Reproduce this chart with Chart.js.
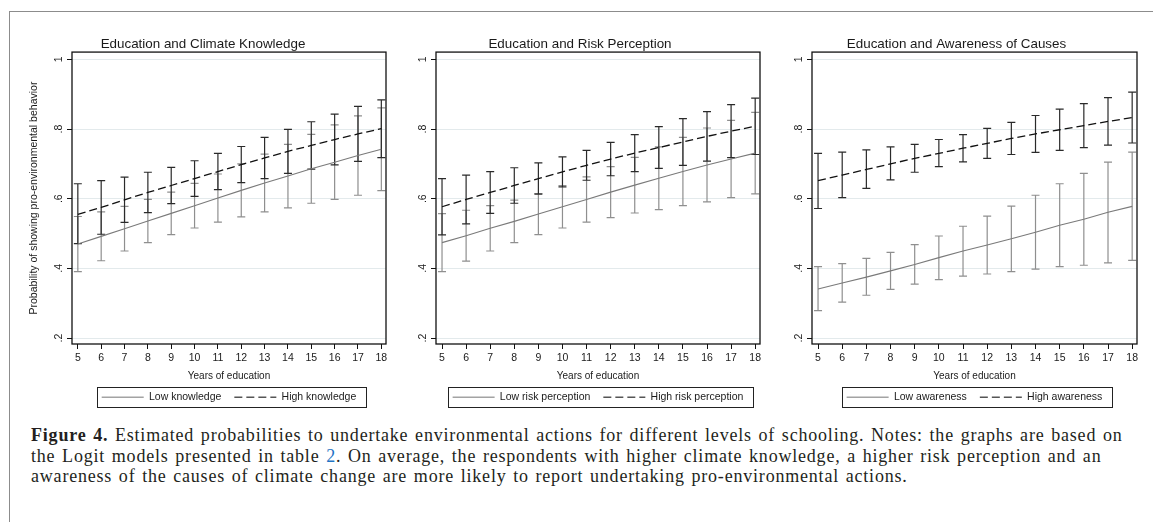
<!DOCTYPE html>
<html>
<head>
<meta charset="utf-8">
<script src="https://cdn.jsdelivr.net/npm/chart.js@4.4.1/dist/chart.umd.min.js"></script>
<style>
    body { margin: 0; background: #fff; width: 1153px; height: 522px; overflow: hidden; position: relative; font-family: "Liberation Sans", Arial, sans-serif; }
    #frame { position: absolute; left: 9px; top: 11px; right: -10px; bottom: -10px; border-top: 1.5px solid #8c8c8c; border-left: 1.5px solid #8c8c8c; }
    .panel { position: absolute; top: 0; height: 420px; }
    #caption { position: absolute; left: 31px; top: 425px; width: 1115px; font-family: "Liberation Serif", serif; font-size: 18px; line-height: 20.5px; letter-spacing: 0.8px; word-spacing: 1.4px; color: #231f20; white-space: nowrap; }
    #caption a { color: #1f74c4; text-decoration: none; }
</style>
</head>
<body>
<div id="frame"></div>
<div class="panel" style="left:20px;width:376px"><canvas id="grafikKnowledge"></canvas></div>
<div class="panel" style="left:400px;width:372px"><canvas id="grafikRisk"></canvas></div>
<div class="panel" style="left:776px;width:369px"><canvas id="grafikCauses"></canvas></div>
<div id="caption"><b>Figure 4.</b> Estimated probabilities to undertake environmental actions for different levels of schooling. Notes: the graphs are based on<br>the Logit models presented in table <a>2</a>. On average, the respondents with higher climate knowledge, a higher risk perception and an<br>awareness of the causes of climate change are more likely to report undertaking pro-environmental actions.</div>

<script>
// data
const years = [5, 6, 7, 8, 9, 10, 11, 12, 13, 14, 15, 16, 17, 18];
const yTicks = [0.2, 0.4, 0.6, 0.8, 1];
const panelTitles = ["Education and Climate Knowledge", "Education and Risk Perception", "Education and Awareness of Causes"];
const lowLabels = ["Low knowledge", "Low risk perception", "Low awareness"];
const highLabels = ["High knowledge", "High risk perception", "High awareness"];

// panel 1: climate knowledge
const knowLow = [0.470, 0.492, 0.514, 0.536, 0.558, 0.580, 0.602, 0.624, 0.645, 0.665, 0.686, 0.705, 0.724, 0.742];
const knowLowLower = [0.391, 0.422, 0.450, 0.474, 0.497, 0.516, 0.533, 0.548, 0.562, 0.574, 0.587, 0.598, 0.610, 0.623];
const knowLowUpper = [0.549, 0.562, 0.578, 0.598, 0.619, 0.644, 0.671, 0.700, 0.728, 0.756, 0.785, 0.812, 0.838, 0.861];
const knowHigh = [0.555, 0.575, 0.597, 0.618, 0.638, 0.658, 0.678, 0.698, 0.717, 0.736, 0.753, 0.770, 0.786, 0.801];
const knowHighLower = [0.471, 0.498, 0.532, 0.560, 0.586, 0.607, 0.626, 0.646, 0.658, 0.673, 0.685, 0.697, 0.707, 0.718];
const knowHighUpper = [0.643, 0.652, 0.662, 0.676, 0.690, 0.709, 0.730, 0.750, 0.776, 0.799, 0.821, 0.843, 0.865, 0.884];

// panel 2: risk perception
const riskLow = [0.474, 0.494, 0.515, 0.535, 0.556, 0.577, 0.598, 0.619, 0.639, 0.659, 0.678, 0.697, 0.714, 0.731];
const riskLowLower = [0.391, 0.421, 0.450, 0.474, 0.497, 0.516, 0.533, 0.546, 0.559, 0.569, 0.580, 0.591, 0.603, 0.614];
const riskLowUpper = [0.557, 0.567, 0.580, 0.596, 0.615, 0.638, 0.663, 0.692, 0.719, 0.749, 0.776, 0.803, 0.825, 0.848];
const riskHigh = [0.577, 0.598, 0.618, 0.638, 0.658, 0.677, 0.696, 0.714, 0.731, 0.747, 0.763, 0.779, 0.794, 0.808];
const riskHighLower = [0.496, 0.528, 0.558, 0.587, 0.613, 0.634, 0.653, 0.666, 0.678, 0.687, 0.696, 0.708, 0.718, 0.727];
const riskHighUpper = [0.658, 0.668, 0.678, 0.689, 0.703, 0.720, 0.739, 0.762, 0.784, 0.807, 0.830, 0.850, 0.870, 0.889];

// panel 3: awareness of causes
const causeLow = [0.341, 0.358, 0.375, 0.393, 0.411, 0.431, 0.450, 0.467, 0.485, 0.504, 0.524, 0.541, 0.561, 0.578];
const causeLowLower = [0.279, 0.303, 0.323, 0.340, 0.355, 0.368, 0.378, 0.384, 0.391, 0.398, 0.405, 0.409, 0.416, 0.423];
const causeLowUpper = [0.405, 0.414, 0.429, 0.446, 0.468, 0.493, 0.521, 0.550, 0.579, 0.610, 0.643, 0.673, 0.705, 0.734];
const causeHigh = [0.652, 0.668, 0.684, 0.700, 0.716, 0.730, 0.745, 0.759, 0.773, 0.786, 0.798, 0.810, 0.822, 0.833];
const causeHighLower = [0.572, 0.603, 0.630, 0.654, 0.676, 0.692, 0.706, 0.716, 0.727, 0.733, 0.739, 0.747, 0.754, 0.760];
const causeHighUpper = [0.730, 0.734, 0.740, 0.749, 0.756, 0.770, 0.784, 0.802, 0.819, 0.839, 0.857, 0.873, 0.890, 0.906];

const fontSans = "'Liberation Sans', Arial, sans-serif";
const textColor = "#1a1a1a";

function fmtProb(v) {
    // stata style: .2 .4 ... 1
    return v >= 1 ? "1" : String(Math.round(v * 10) / 10).replace(/^0/, "");
}

// error bars, plot frame, rotated y labels, legend box
const stataPlugin = {
    id: "stataLook",
    beforeDatasetsDraw(chart) {
        const { ctx, chartArea, scales } = chart;
        ctx.save();
        ctx.beginPath();
        ctx.rect(chartArea.left, chartArea.top, chartArea.right - chartArea.left, chartArea.bottom - chartArea.top);
        ctx.clip();
        chart.data.datasets.forEach(ds => {
            ctx.strokeStyle = ds.barColor;
            ctx.lineWidth = 1.2;
            ds.data.forEach((p, i) => {
                const px = scales.x.getPixelForValue(p.x);
                const yLo = scales.y.getPixelForValue(ds.lower[i]);
                const yHi = scales.y.getPixelForValue(ds.upper[i]);
                ctx.beginPath();
                ctx.moveTo(px, yLo); ctx.lineTo(px, yHi);
                ctx.moveTo(px - 4, yLo); ctx.lineTo(px + 4, yLo);
                ctx.moveTo(px - 4, yHi); ctx.lineTo(px + 4, yHi);
                ctx.stroke();
            });
        });
        ctx.restore();
    },
    afterDraw(chart) {
        const { ctx, chartArea, scales } = chart;
        ctx.save();
        ctx.strokeStyle = "#111";
        ctx.lineWidth = 1.3;
        ctx.strokeRect(chartArea.left, chartArea.top, chartArea.right - chartArea.left, chartArea.bottom - chartArea.top);

        // y tick labels, rotated like stata
        ctx.fillStyle = textColor;
        ctx.font = "10.5px " + fontSans;
        ctx.textAlign = "center";
        ctx.textBaseline = "middle";
        scales.y.ticks.forEach(t => {
            const py = scales.y.getPixelForValue(t.value);
            ctx.save();
            ctx.translate(chartArea.left - 13, py);
            ctx.rotate(-Math.PI / 2);
            ctx.fillText(fmtProb(t.value), 0, 0);
            ctx.restore();
        });

        // box round the legend
        const boxes = chart.legend.legendHitBoxes;
        if (boxes && boxes.length) {
            const left = Math.min(...boxes.map(b => b.left)) - 5;
            const right = Math.max(...boxes.map(b => b.left + b.width)) + 9;
            const mid = boxes[0].top + boxes[0].height / 2;
            ctx.strokeStyle = "#222";
            ctx.lineWidth = 1;
            ctx.strokeRect(Math.round(left) + 0.5, Math.round(mid - 10) + 0.5, Math.round(right - left), 20);
        }
        ctx.restore();
    }
};

function legendLabels(chart) {
    return Chart.defaults.plugins.legend.labels.generateLabels(chart).map(item => {
        const ds = chart.data.datasets[item.datasetIndex];
        item.lineDash = ds.borderDash || [];
        item.strokeStyle = ds.legendColor;
        item.lineWidth = 1.3;
        return item;
    });
}

function renderPanel(canvasId, idx, low, lowLower, lowUpper, high, highLower, highUpper, yAxisWidth, padRight, showYTitle) {
    const ctx = document.getElementById(canvasId).getContext("2d");
    new Chart(ctx, {
        type: "line",
        data: {
            datasets: [
                {
                    label: lowLabels[idx],
                    data: years.map((x, i) => ({ x, y: low[i] })),
                    lower: lowLower, upper: lowUpper, barColor: "#8f8f8f", legendColor: "#a3a3a3",
                    borderColor: "#7a7a7a", borderWidth: 1.1, pointRadius: 0, tension: 0
                },
                {
                    label: highLabels[idx],
                    data: years.map((x, i) => ({ x, y: high[i] })),
                    lower: highLower, upper: highUpper, barColor: "#2a2a2a", legendColor: "#555",
                    borderColor: "#111", borderWidth: 1.3, borderDash: [8, 4], pointRadius: 0, tension: 0
                }
            ]
        },
        options: {
            responsive: true,
            maintainAspectRatio: false,
            animation: false,
            layout: { padding: { left: 0, right: padRight, top: 0, bottom: 7.5 } },
            plugins: {
                tooltip: { enabled: false },
                title: {
                    display: true, text: panelTitles[idx], color: textColor,
                    font: { family: fontSans, size: 13.4, weight: "normal" },
                    padding: { top: 36, bottom: 0 }
                },
                legend: {
                    position: "bottom", fullSize: false,
                    labels: {
                        usePointStyle: true, pointStyle: "line", pointStyleWidth: 42,
                        color: textColor, padding: 13,
                        font: { family: fontSans, size: 10.5 },
                        generateLabels: legendLabels
                    }
                }
            },
            scales: {
                x: {
                    type: "linear", min: 4.75, max: 18.2,
                    afterBuildTicks: s => { s.ticks = years.map(v => ({ value: v })); },
                    afterFit: s => { s.height = 35; },
                    grid: { drawOnChartArea: false, drawTicks: true, tickLength: 5, tickColor: "#111" },
                    border: { display: false },
                    ticks: { color: textColor, padding: 3, maxRotation: 0, font: { family: fontSans, size: 10.5 } },
                    title: {
                        display: true, text: "Years of education", color: textColor,
                        font: { family: fontSans, size: 10 }, padding: { top: 0, bottom: -3 }
                    }
                },
                y: {
                    type: "linear", min: 0.183, max: 1.021,
                    afterBuildTicks: s => { s.ticks = yTicks.map(v => ({ value: v })); },
                    afterFit: s => { s.width = yAxisWidth; },
                    grid: { color: "#e3eaec", lineWidth: 1, drawTicks: true, tickLength: 5, tickColor: "#111" },
                    border: { display: false },
                    ticks: { display: false },
                    title: {
                        display: showYTitle, text: "Probability of showing pro-environmental behavior", color: textColor,
                        font: { family: fontSans, size: 10.5 }, padding: { top: 8, bottom: 0 }
                    }
                }
            }
        },
        plugins: [stataPlugin]
    });
}

renderPanel("grafikKnowledge", 0, knowLow, knowLowLower, knowLowUpper, knowHigh, knowHighLower, knowHighUpper, 52, 10, true);
renderPanel("grafikRisk", 1, riskLow, riskLowLower, riskLowUpper, riskHigh, riskHighLower, riskHighUpper, 36, 12, false);
renderPanel("grafikCauses", 2, causeLow, causeLowLower, causeLowUpper, causeHigh, causeHighLower, causeHighUpper, 36, 8, false);
</script>
</body>
</html>
